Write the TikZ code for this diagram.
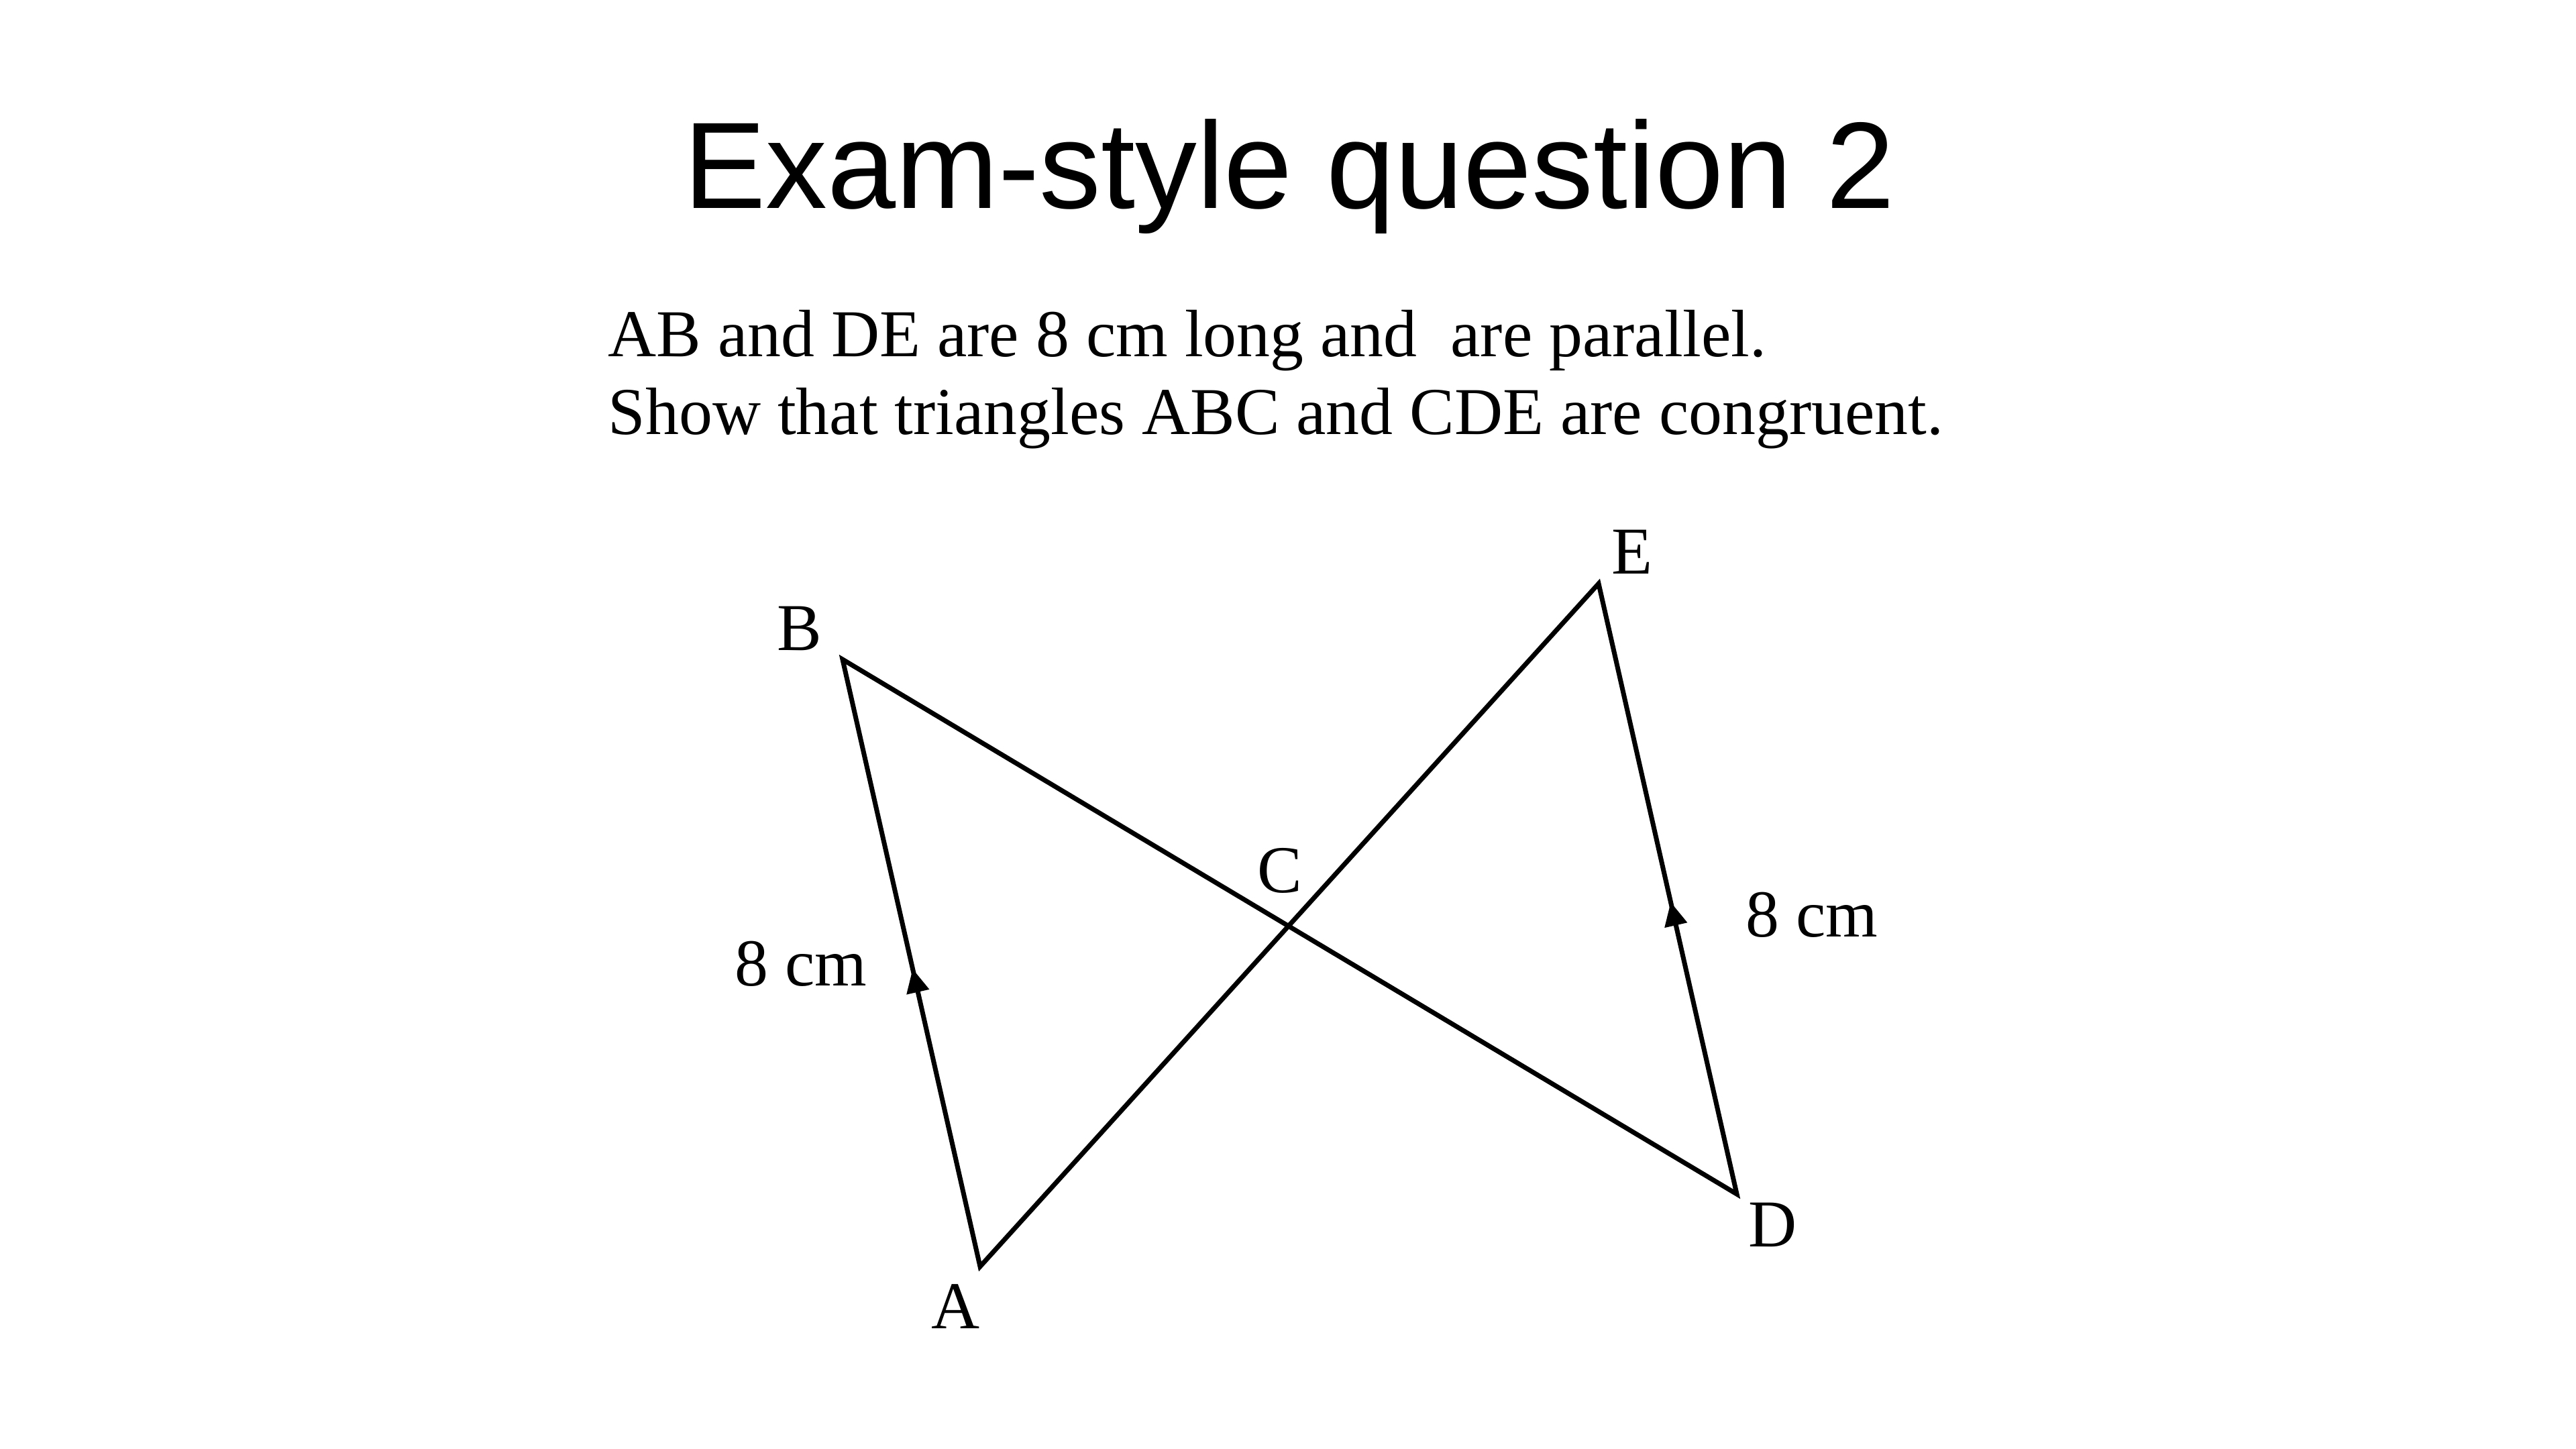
\documentclass[tikz,border=0pt]{standalone}
\usepackage{fontspec}
\setmainfont{Liberation Serif}
\newfontfamily\titlefont{Liberation Sans}
\usetikzlibrary{decorations.markings}
\tikzset{
  edge/.style={line width=2pt, line join=miter},
  midarrow/.style={decoration={markings, mark=at position #1 with {\fill (-3.5mm,-1.75mm) -- (0,0) -- (-3.5mm,1.75mm) -- cycle;}}, postaction={decorate}},
  lbl/.style={font=\fontsize{28.4}{32}\selectfont, inner sep=0pt},
  body/.style={font=\fontsize{28.4}{32}\selectfont, inner sep=0pt, anchor=base west},
}
\begin{document}
\begin{tikzpicture}
\useasboundingbox[fill=white] (0,0) rectangle (38.4,-21.6);
\node[font=\titlefont\fontsize{52.2}{60}\selectfont, inner sep=0pt, anchor=base] (title) at (19.22,-3.11) {Exam-style question 2};
\node[body] (line1) at (9.06,-5.32) {AB and DE are 8 cm long and~ are parallel.};
\node[body] (line2) at (9.06,-6.47) {Show that triangles ABC and CDE are congruent.};
\coordinate (A) at (14.61,-18.88);
\coordinate (B) at (12.56,-9.83);
\coordinate (D) at (25.89,-17.80);
\coordinate (E) at (23.83,-8.70);
\draw[edge] (A) -- (B) -- (D) -- (E) -- cycle;
\path[midarrow=0.49] (A) -- (B);
\path[midarrow=0.478] (D) -- (E);
\coordinate (C) at (intersection of A--E and B--D);
\node[lbl] (la) at (14.25,-19.48) {A};
\node[lbl] (lb) at (11.92,-9.37) {B};
\node[lbl] (lc) at (19.08,-12.98) {C};
\node[lbl] (ld) at (26.42,-18.26) {D};
\node[lbl] (le) at (24.33,-8.23) {E};
\node[lbl] (lab) at (11.94,-14.37) {8 cm};
\node[lbl] (lde) at (27.01,-13.64) {8 cm};
\end{tikzpicture}
\end{document}
